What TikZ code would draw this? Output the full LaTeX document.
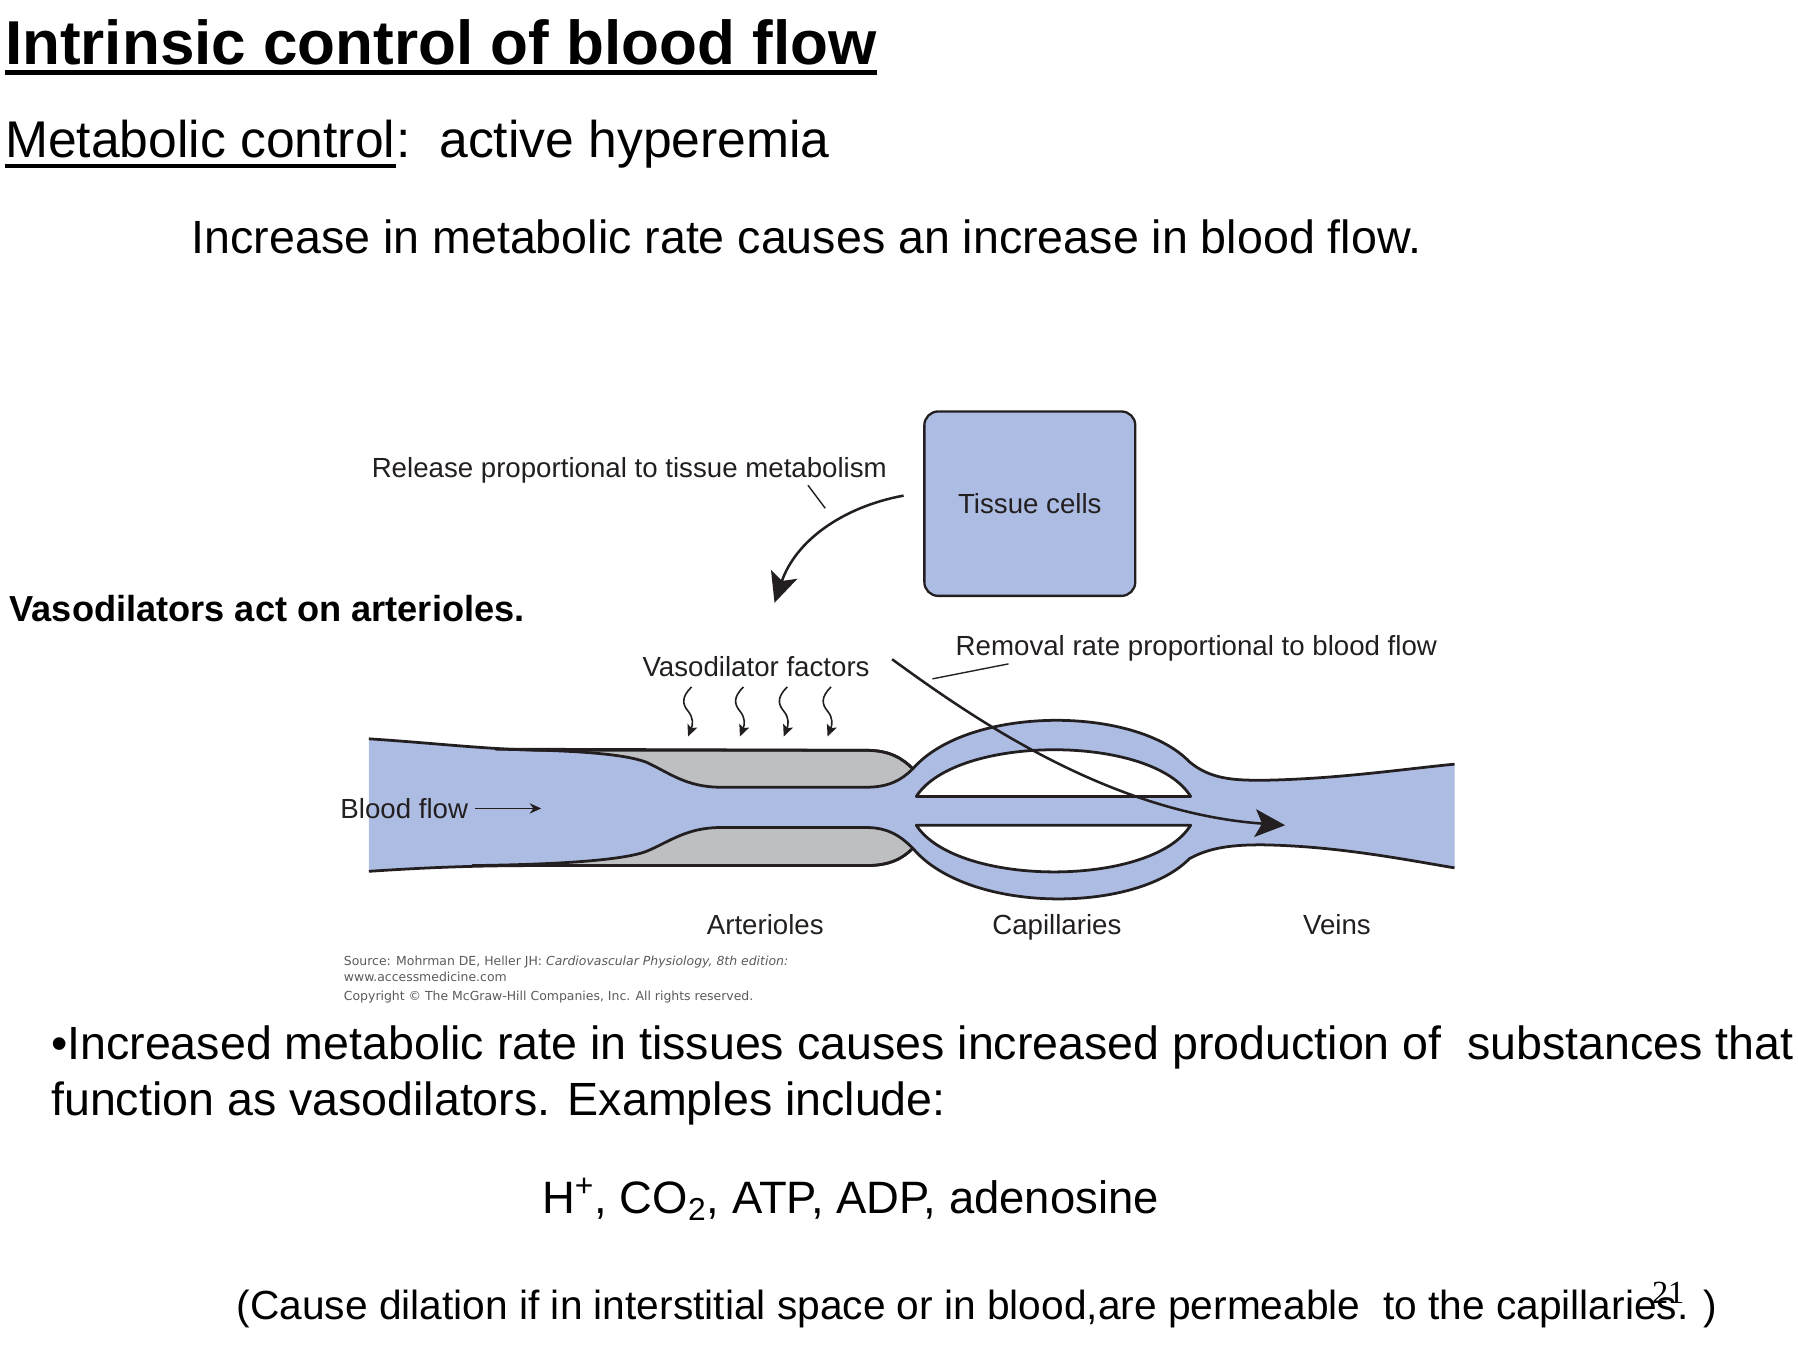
\documentclass[tikz,border=0pt]{standalone}
\usepackage{fontspec}
\setmainfont{Liberation Sans}
\newfontfamily\srcfont{DejaVu Sans}
\newfontfamily\pagefont{Liberation Serif}
\usetikzlibrary{arrows.meta}
\definecolor{vesselblue}{RGB}{173,188,226}
\definecolor{musclegray}{RGB}{190,191,193}
\definecolor{inkline}{RGB}{35,31,32}
\definecolor{srcgray}{RGB}{90,90,90}
\tikzset{>=Stealth}
\tikzset{
  wall/.style={draw=inkline, line width=1.2pt, line join=round},
  lbl/.style={inner sep=0pt, text=inkline, font=\fontsize{12}{14}\selectfont},
  big/.style={inner sep=0pt, anchor=base west, font=\fontsize{20.2}{24}\selectfont},
  src/.style={inner sep=0pt, anchor=base west, text=srcgray, font=\srcfont\fontsize{5.4}{6.4}\selectfont},
  bigarrow/.style={draw=inkline, line width=1.1pt, -{Stealth[length=13pt,width=12pt,inset=3pt]}},
  wavy/.style={draw=inkline, line width=0.7pt, -{Stealth[length=5pt,width=4.5pt,inset=1pt]}},
  leader/.style={draw=inkline, line width=0.6pt},
}

\begin{document}
\begin{tikzpicture}[x=0.5pt, y=-0.5pt]
		\useasboundingbox (0,0) rectangle (1560,1176);
		% headings
		\node[anchor=base west, inner sep=0pt, font=\bfseries\fontsize{26.9}{32}\selectfont] (title) at (4,56) {Intrinsic control of blood flow};
		\draw[line width=2pt] ([yshift=-3.5pt]title.base west) -- ([yshift=-3.5pt]title.base east);
		\node[anchor=base west, inner sep=0pt, font=\fontsize{22.4}{26}\selectfont] (metab) at (4,137) {Metabolic control};
		\node[anchor=base west, inner sep=0pt, font=\fontsize{22.4}{26}\selectfont] (hyper) at (metab.base east) {:\ \ active hyperemia};
		\draw[line width=1.5pt] ([yshift=-3.5pt]metab.base west) -- ([yshift=-3.5pt]metab.base east);
		\node[big] (increase) at (166,220) {Increase in metabolic rate causes an increase in blood flow.};
		\node[anchor=base west, inner sep=0pt, font=\bfseries\fontsize{15.7}{19}\selectfont] (vasoact) at (8,539) {Vasodilators act on arterioles.};

		% vessel lumen
		\fill[vesselblue] (320,641) .. controls (380,645) and (420,650) .. (470,651) -- (752,651)
			.. controls (772,651) and (783,658) .. (792,667)
			.. controls (840,612) and (985,612) .. (1032,661)
			.. controls (1050,676) and (1070,677) .. (1095,677)
			.. controls (1160,676) and (1220,667) .. (1262,663) -- (1262,753)
			.. controls (1220,746) and (1160,734) .. (1095,733)
			.. controls (1070,733) and (1050,735) .. (1032,745)
			.. controls (985,793) and (840,793) .. (792,736)
			.. controls (783,745) and (772,751) .. (752,751) -- (470,751)
			.. controls (420,751) and (380,752) .. (320,756) -- cycle;
		% arteriole smooth muscle
		\filldraw[wall, fill=musclegray] (430,650) -- (752,651) .. controls (772,651) and (783,658) .. (792,667)
			.. controls (783,676) and (772,683) .. (752,683) -- (625,683)
			.. controls (595,683) and (580,670) .. (560,661) .. controls (540,654) and (500,651) .. (430,650) -- cycle;
		\filldraw[wall, fill=musclegray] (410,751) -- (752,751) .. controls (772,751) and (783,745) .. (792,736)
			.. controls (783,727) and (772,718) .. (752,718) -- (625,718)
			.. controls (595,718) and (580,731) .. (560,739) .. controls (540,746) and (490,750) .. (410,751) -- cycle;
		% capillary gaps
		\filldraw[wall, fill=white] (795,691) .. controls (830,637) and (1000,637) .. (1033,691) -- cycle;
		\filldraw[wall, fill=white] (795,716) .. controls (830,770) and (1000,770) .. (1033,716) -- cycle;
		% outer walls
		\draw[wall] (320,641) .. controls (380,645) and (420,650) .. (470,651) -- (752,651)
			.. controls (772,651) and (783,658) .. (792,667)
			.. controls (840,612) and (985,612) .. (1032,661)
			.. controls (1050,676) and (1070,677) .. (1095,677)
			.. controls (1160,676) and (1220,667) .. (1262,663);
		\draw[wall] (320,756) .. controls (380,752) and (420,751) .. (470,751) -- (752,751)
			.. controls (772,751) and (783,745) .. (792,736)
			.. controls (840,793) and (985,793) .. (1032,745)
			.. controls (1050,735) and (1070,733) .. (1095,733)
			.. controls (1160,734) and (1220,746) .. (1262,753);

		% tissue cells and release
		\node[draw=inkline, line width=1pt, fill=vesselblue, rounded corners=6pt, minimum width=91.5pt, minimum height=80pt, lbl] (cells) at (893.5,437) {Tissue cells};
		\node[lbl, anchor=base] (release) at (546,414) {Release proportional to tissue metabolism};
		\coordinate (relfrom) at (784,430);
		\coordinate (relto) at (672,523);
		\draw[bigarrow] (relfrom) .. controls (730,440) and (690,470) .. (relto);
		\coordinate (relleadA) at (701,421);
		\coordinate (relleadB) at (716,441);
		\draw[leader] (relleadA) -- (relleadB);

		% vasodilator factors
		\node[lbl, anchor=base] (vasof) at (656,587) {Vasodilator factors};
		\foreach \wx in {597,642,680,718}
			\draw[wavy] (\wx+3,596) .. controls (\wx-6,605) and (\wx-5,611) .. (\wx,617) .. controls (\wx+5,623) and (\wx+4,629) .. (\wx,639);

		% removal
		\node[lbl, anchor=base] (removal) at (1038,569) {Removal rate proportional to blood flow};
		\coordinate (remleadA) at (809,589);
		\coordinate (remleadB) at (875,576);
		\draw[leader] (remleadA) -- (remleadB);
		\coordinate (remfrom) at (774,572);
		\coordinate (remto) at (1115,716);
		\draw[bigarrow] (remfrom) .. controls (840,620) and (960,705) .. (remto);

		% flow and section labels
		\node[lbl, anchor=base west] (flow) at (295,710) {Blood flow};
		\draw[line width=0.6pt, draw=inkline, -{Stealth[length=5pt,width=4.5pt]}] ([xshift=3pt]flow.east) -- ++(57,0);
		\node[lbl, anchor=base] (arterioles) at (664,811) {Arterioles};
		\node[lbl, anchor=base] (capillaries) at (917,811) {Capillaries};
		\node[lbl, anchor=base] (veins) at (1160,811) {Veins};

		% source
		\node[src] (src1) at (298,838) {Source: Mohrman DE, Heller JH: \textit{Cardiovascular Physiology, 8th edition:}};
		\node[src] (src2) at (298,852) {www.accessmedicine.com};
		\node[src] (src3) at (298,868) {Copyright © The McGraw-Hill Companies, Inc. All rights reserved.};

		% bottom text
		\node[big] (bul1) at (44,919) {•Increased metabolic rate in tissues causes increased production of\ \ substances that};
		\node[big] (bul2) at (44,968) {function as vasodilators. Examples include:};
		\node[big, font=\fontsize{19.7}{24}\selectfont] (examples) at (470,1053) {H\textsuperscript{+}, CO\textsubscript{2}, ATP, ADP, adenosine};
		\node[anchor=base west, inner sep=0pt, font=\fontsize{17.65}{21}\selectfont] (cause) at (205,1145) {(Cause dilation if in interstitial space or in blood,are permeable\ \ to the capillaries. )};
		\node[anchor=base west, inner sep=0pt, font=\pagefont\fontsize{14}{16}\selectfont] (pagenum) at (1433,1131) {21};
	\end{tikzpicture}
\end{document}
